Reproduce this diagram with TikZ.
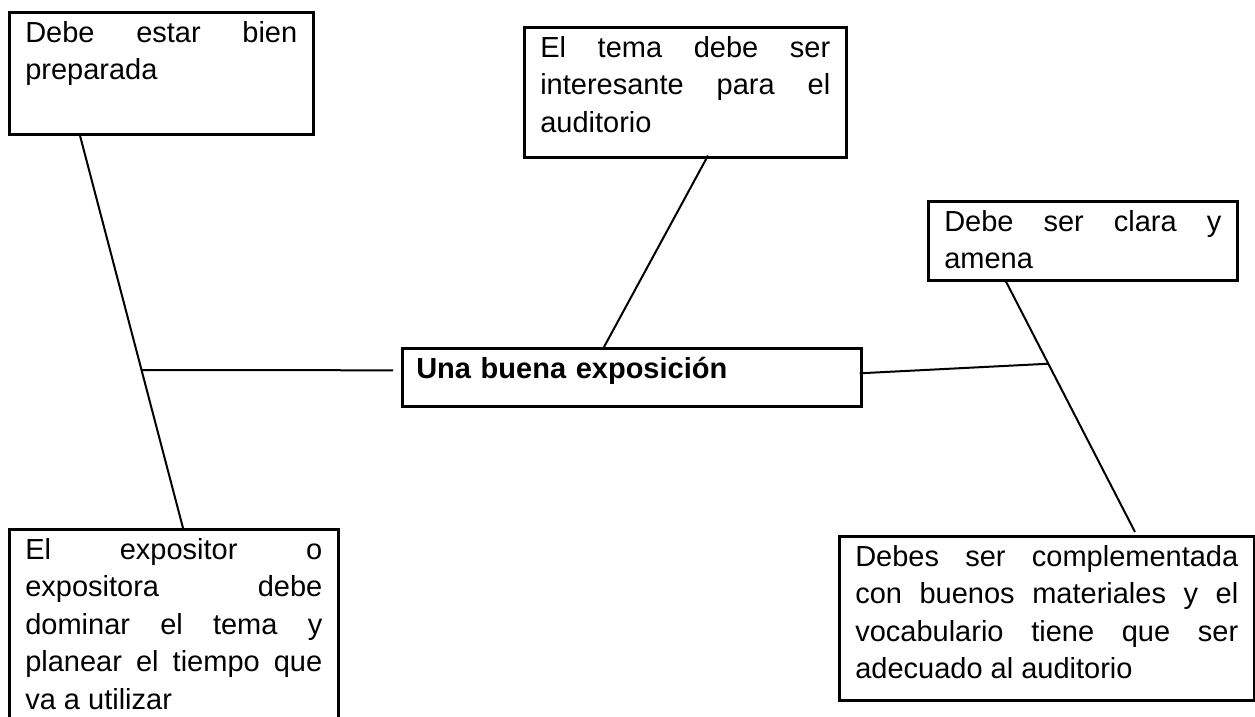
\documentclass[tikz,border=0pt]{standalone}
\usepackage{fontspec}
\setmainfont{Liberation Sans}
\usetikzlibrary{calc}

\tikzset{
  idea/.style={draw, line width=1.3pt, anchor=north west, inner xsep=8pt, inner ysep=0pt,
    align=justify, text height=15pt, font=\fontsize{14.5}{18.75}\selectfont},
  link/.style={line width=1pt}
}

\begin{document}
\begin{tikzpicture}[x=0.5pt,y=-0.5pt]
  \useasboundingbox (0,0) rectangle (1255,717);
  \clip (0,0) rectangle (1255,717);
  \tolerance=10000 \hyphenpenalty=10000

  \node[idea, text width=136pt, text depth=46pt] (prep) at (8,11)
    {Debe estar bien\linebreak preparada};
  \node[idea, text width=145pt, text depth=50pt] (interes) at (523,26)
    {El tema debe ser\linebreak interesante para el\linebreak auditorio};
  \node[idea, text width=138.5pt, text depth=24.5pt] (clara) at (927,200)
    {Debe ser clara y\linebreak amena};
  \node[idea, text width=148.5pt, text depth=85pt] (expositor) at (8,528)
    {El expositor o\linebreak expositora debe\linebreak dominar el tema y\linebreak planear el tiempo que\linebreak va a utilizar};
  \node[idea, text width=191.5pt, text depth=67pt] (material) at (838,535)
    {Debes ser complementada\linebreak con buenos materiales y el\linebreak vocabulario tiene que ser\linebreak adecuado al auditorio};
  \node[idea, align=left, inner xsep=7pt, text width=215.5pt, text depth=14pt] (expo) at (401,347)
    {\bfseries Una buena exposición};

  % left branch
  \coordinate (p1) at ($(prep.south west)+(72,0)$);
  \coordinate (p2) at ($(expositor.north west)+(175,0)$);
  \draw[link] (p1) -- (p2);
  \coordinate (j1) at ($(p1)!0.5975!(p2)$);
  \draw[link] (j1) -- ($(expo.west)+(-8,-7)$);

  % top branch
  \draw[link] ($(interes.south west)+(185,-3)$) -- ($(expo.north west)+(203,0)$);

  % right branch
  \coordinate (q1) at ($(clara.south west)+(79,0)$);
  \coordinate (q2) at ($(material.north west)+(297,-3)$);
  \draw[link] (q1) -- (q2);
  \coordinate (j2) at ($(q1)!0.328!(q2)$);
  \draw[link] ($(expo.east)+(-3,-4)$) -- (j2);
\end{tikzpicture}
\end{document}
